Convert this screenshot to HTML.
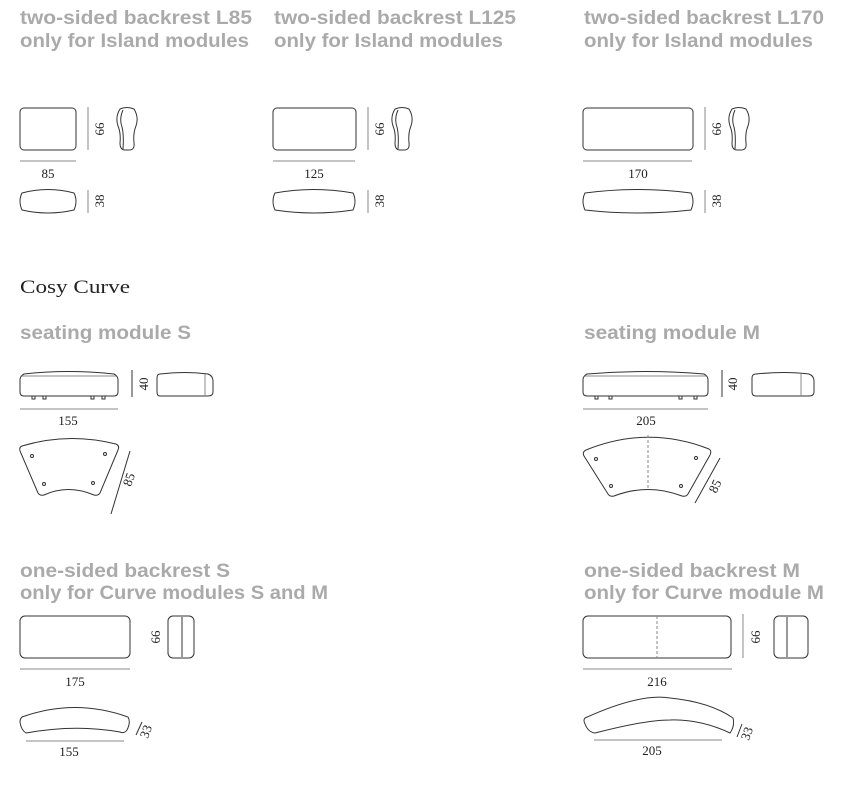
<!DOCTYPE html>
<html><head><meta charset="utf-8"><style>
html,body{margin:0;padding:0;background:#fff;width:852px;height:786px;overflow:hidden}
svg{display:block}
.h{font-family:"Liberation Sans",sans-serif;font-weight:bold;font-size:19px;fill:#aaaaaa}
.n{font-family:"Liberation Serif",serif;font-size:13px;fill:#222}
.s{fill:none;stroke:#333;stroke-width:1}
.d{fill:none;stroke:#888;stroke-width:1}
</style></head><body>
<svg width="852" height="786" viewBox="0 0 852 786" xmlns="http://www.w3.org/2000/svg">
<defs>
<path id="prof" class="s" d="M5,2 Q12,-1 19,2 Q24,10 21,19 Q18,26 19,36 Q20,43 14,43 L10,43 Q5,43 5,36 Q6,26 3,19 Q0,10 5,2Z M8,3 Q4,12 7,20 Q9,28 8,42"/>
</defs>
<!-- headings -->
<text class="h" x="20" y="24" textLength="232" lengthAdjust="spacingAndGlyphs">two-sided backrest L85</text>
<text class="h" x="20" y="47" textLength="229" lengthAdjust="spacingAndGlyphs">only for Island modules</text>
<text class="h" x="274" y="24" textLength="242" lengthAdjust="spacingAndGlyphs">two-sided backrest L125</text>
<text class="h" x="274" y="47" textLength="229" lengthAdjust="spacingAndGlyphs">only for Island modules</text>
<text class="h" x="584" y="24" textLength="240" lengthAdjust="spacingAndGlyphs">two-sided backrest L170</text>
<text class="h" x="584" y="47" textLength="229" lengthAdjust="spacingAndGlyphs">only for Island modules</text>

<!-- L85 -->
<rect class="s" x="20" y="108" width="56" height="42" rx="4"/>
<line class="d" x1="88" y1="107" x2="88" y2="150"/>
<text class="n" transform="translate(104,129) rotate(-90)" text-anchor="middle">66</text>
<use href="#prof" x="115" y="107"/>
<line class="d" x1="20" y1="161" x2="76" y2="161"/>
<text class="n" x="48" y="178" text-anchor="middle">85</text>
<path class="s" d="M22,193 Q48,186 74,193 Q78,201 74,210 Q48,216 22,210 Q18,201 22,193Z"/>
<line class="d" x1="88" y1="190" x2="88" y2="213"/>
<text class="n" transform="translate(104,201) rotate(-90)" text-anchor="middle">38</text>

<!-- L125 -->
<rect class="s" x="273" y="108" width="83" height="42" rx="4"/>
<line class="d" x1="368" y1="107" x2="368" y2="150"/>
<text class="n" transform="translate(384,129) rotate(-90)" text-anchor="middle">66</text>
<use href="#prof" x="390" y="107"/>
<line class="d" x1="273" y1="161" x2="355" y2="161"/>
<text class="n" x="314" y="178" text-anchor="middle">125</text>
<path class="s" d="M275,193 Q314,186 353,193 Q357,201 353,210 Q314,216 275,210 Q271,201 275,193Z"/>
<line class="d" x1="368" y1="190" x2="368" y2="213"/>
<text class="n" transform="translate(384,201) rotate(-90)" text-anchor="middle">38</text>

<!-- L170 -->
<rect class="s" x="583" y="108" width="110" height="42" rx="4"/>
<line class="d" x1="705" y1="107" x2="705" y2="150"/>
<text class="n" transform="translate(721,129) rotate(-90)" text-anchor="middle">66</text>
<use href="#prof" x="727" y="107"/>
<line class="d" x1="583" y1="161" x2="692" y2="161"/>
<text class="n" x="638" y="178" text-anchor="middle">170</text>
<path class="s" d="M585,193 Q638,186 691,193 Q695,201 691,210 Q638,216 585,210 Q581,201 585,193Z"/>
<line class="d" x1="705" y1="190" x2="705" y2="213"/>
<text class="n" transform="translate(721,201) rotate(-90)" text-anchor="middle">38</text>

<!-- Cosy Curve -->
<text x="20" y="293" textLength="110" lengthAdjust="spacingAndGlyphs" style="font-family:'Liberation Serif',serif;font-size:19px;fill:#222">Cosy Curve</text>

<!-- seating module S -->
<text class="h" x="20" y="339" textLength="171" lengthAdjust="spacingAndGlyphs">seating module S</text>
<path class="s" d="M24,374 Q68,369 114,374 Q118,376 118,380 L118,392 Q118,396 114,396 L24,396 Q20,396 20,392 L20,380 Q20,376 24,374Z"/>
<line class="d" x1="22" y1="376" x2="116" y2="376"/>
<path class="s" d="M32,396 v3 h3 v-3 M43,396 v3 h3 v-3 M91,396 v3 h3 v-3 M102,396 v3 h3 v-3"/>
<line class="s" x1="132" y1="370" x2="132" y2="397"/>
<text class="n" transform="translate(148,384) rotate(-90)" text-anchor="middle">40</text>
<path class="s" d="M160,374 Q185,371 208,374 Q213,376 213,381 L213,392 Q213,396 208,396 L160,396 Q157,396 157,392 L157,378 Q157,374 160,374Z"/>
<line class="d" x1="205" y1="374" x2="205" y2="396"/>
<line class="d" x1="20" y1="409" x2="118" y2="409"/>
<text class="n" x="68" y="425" text-anchor="middle">155</text>
<path class="s" d="M22,446 Q68,432 116,444 Q120,446 118,450 L100,493 Q98,496 94,495 Q68,484 44,495 Q40,496 38,493 L20,451 Q19,447 22,446Z"/>
<circle class="s" cx="32" cy="456" r="1.5"/><circle class="s" cx="105" cy="454" r="1.5"/>
<circle class="s" cx="44" cy="484" r="1.5"/><circle class="s" cx="93" cy="483" r="1.5"/>
<line class="s" x1="111" y1="514" x2="130" y2="451"/>
<text class="n" transform="translate(133,481) rotate(-70)" text-anchor="middle">85</text>

<!-- seating module M -->
<text class="h" x="584" y="339" textLength="176" lengthAdjust="spacingAndGlyphs">seating module M</text>
<path class="s" d="M587,374 Q645,369 704,374 Q708,376 708,380 L708,392 Q708,396 704,396 L587,396 Q583,396 583,392 L583,380 Q583,376 587,374Z"/>
<line class="d" x1="585" y1="376" x2="706" y2="376"/>
<path class="s" d="M595,396 v3 h3 v-3 M609,396 v3 h3 v-3 M679,396 v3 h3 v-3 M694,396 v3 h3 v-3"/>
<line class="s" x1="722" y1="370" x2="722" y2="397"/>
<text class="n" transform="translate(737,384) rotate(-90)" text-anchor="middle">40</text>
<path class="s" d="M756,374 Q785,371 809,374 Q814,376 814,381 L814,392 Q814,396 809,396 L756,396 Q752,396 752,392 L752,378 Q752,374 756,374Z"/>
<line class="d" x1="801" y1="374" x2="801" y2="396"/>
<line class="d" x1="583" y1="409" x2="708" y2="409"/>
<text class="n" x="646" y="425" text-anchor="middle">205</text>
<path class="s" d="M586,450 Q648,425 709,449 Q712,451 710,455 L688,494 Q686,497 682,496 Q648,483 614,496 Q610,497 608,494 L584,456 Q582,452 586,450Z"/>
<line class="d" x1="648" y1="435" x2="648" y2="488" stroke-dasharray="3,2"/>
<circle class="s" cx="596" cy="459" r="1.5"/><circle class="s" cx="696" cy="458" r="1.5"/>
<circle class="s" cx="611" cy="486" r="1.5"/><circle class="s" cx="681" cy="486" r="1.5"/>
<line class="s" x1="695" y1="503" x2="720" y2="458"/>
<text class="n" transform="translate(719,488) rotate(-65)" text-anchor="middle">85</text>

<!-- one-sided backrest S -->
<text class="h" x="20" y="577" textLength="210" lengthAdjust="spacingAndGlyphs">one-sided backrest S</text>
<text class="h" x="20" y="599" textLength="308" lengthAdjust="spacingAndGlyphs">only for Curve modules S and M</text>
<rect class="s" x="20" y="616" width="110" height="42" rx="5"/>
<line class="d" x1="20" y1="669" x2="130" y2="669"/>
<text class="n" x="75" y="686" text-anchor="middle">175</text>
<text class="n" transform="translate(160,637) rotate(-90)" text-anchor="middle">66</text>
<rect class="s" x="168" y="616" width="26" height="42" rx="5"/>
<line class="s" x1="182" y1="617" x2="182" y2="657"/>
<path class="s" d="M22,717 Q75,698 128,717 Q131,722 127,730 Q124,734 120,732 Q75,724 26,733 Q21,730 20,722 Q20,719 22,717Z"/>
<line class="d" x1="26" y1="741" x2="124" y2="741"/>
<text class="n" x="69" y="756" text-anchor="middle">155</text>
<line class="s" x1="136" y1="735" x2="142" y2="722"/>
<text class="n" transform="translate(150,733) rotate(-70)" text-anchor="middle">33</text>

<!-- one-sided backrest M -->
<text class="h" x="584" y="577" textLength="216" lengthAdjust="spacingAndGlyphs">one-sided backrest M</text>
<text class="h" x="584" y="599" textLength="240" lengthAdjust="spacingAndGlyphs">only for Curve module M</text>
<rect class="s" x="583" y="616" width="148" height="42" rx="5"/>
<line class="d" x1="657" y1="616" x2="657" y2="658" stroke-dasharray="3,2"/>
<line class="d" x1="743" y1="614" x2="743" y2="658"/>
<text class="n" transform="translate(760,637) rotate(-90)" text-anchor="middle">66</text>
<rect class="s" x="774" y="616" width="34" height="42" rx="5"/>
<line class="s" x1="787" y1="617" x2="787" y2="657"/>
<line class="d" x1="583" y1="669" x2="732" y2="669"/>
<text class="n" x="657" y="686" text-anchor="middle">216</text>
<path class="s" d="M585,718 Q640,693 670,698 Q710,702 733,718 Q735,726 730,733 Q700,719 670,720 Q645,720 595,733 Q588,732 585,724 Q583,720 585,718Z"/>
<line class="d" x1="594" y1="740" x2="722" y2="740"/>
<text class="n" x="652" y="755" text-anchor="middle">205</text>
<line class="s" x1="737" y1="737" x2="742" y2="724"/>
<text class="n" transform="translate(751,735) rotate(-70)" text-anchor="middle">33</text>
</svg>
</body></html>
